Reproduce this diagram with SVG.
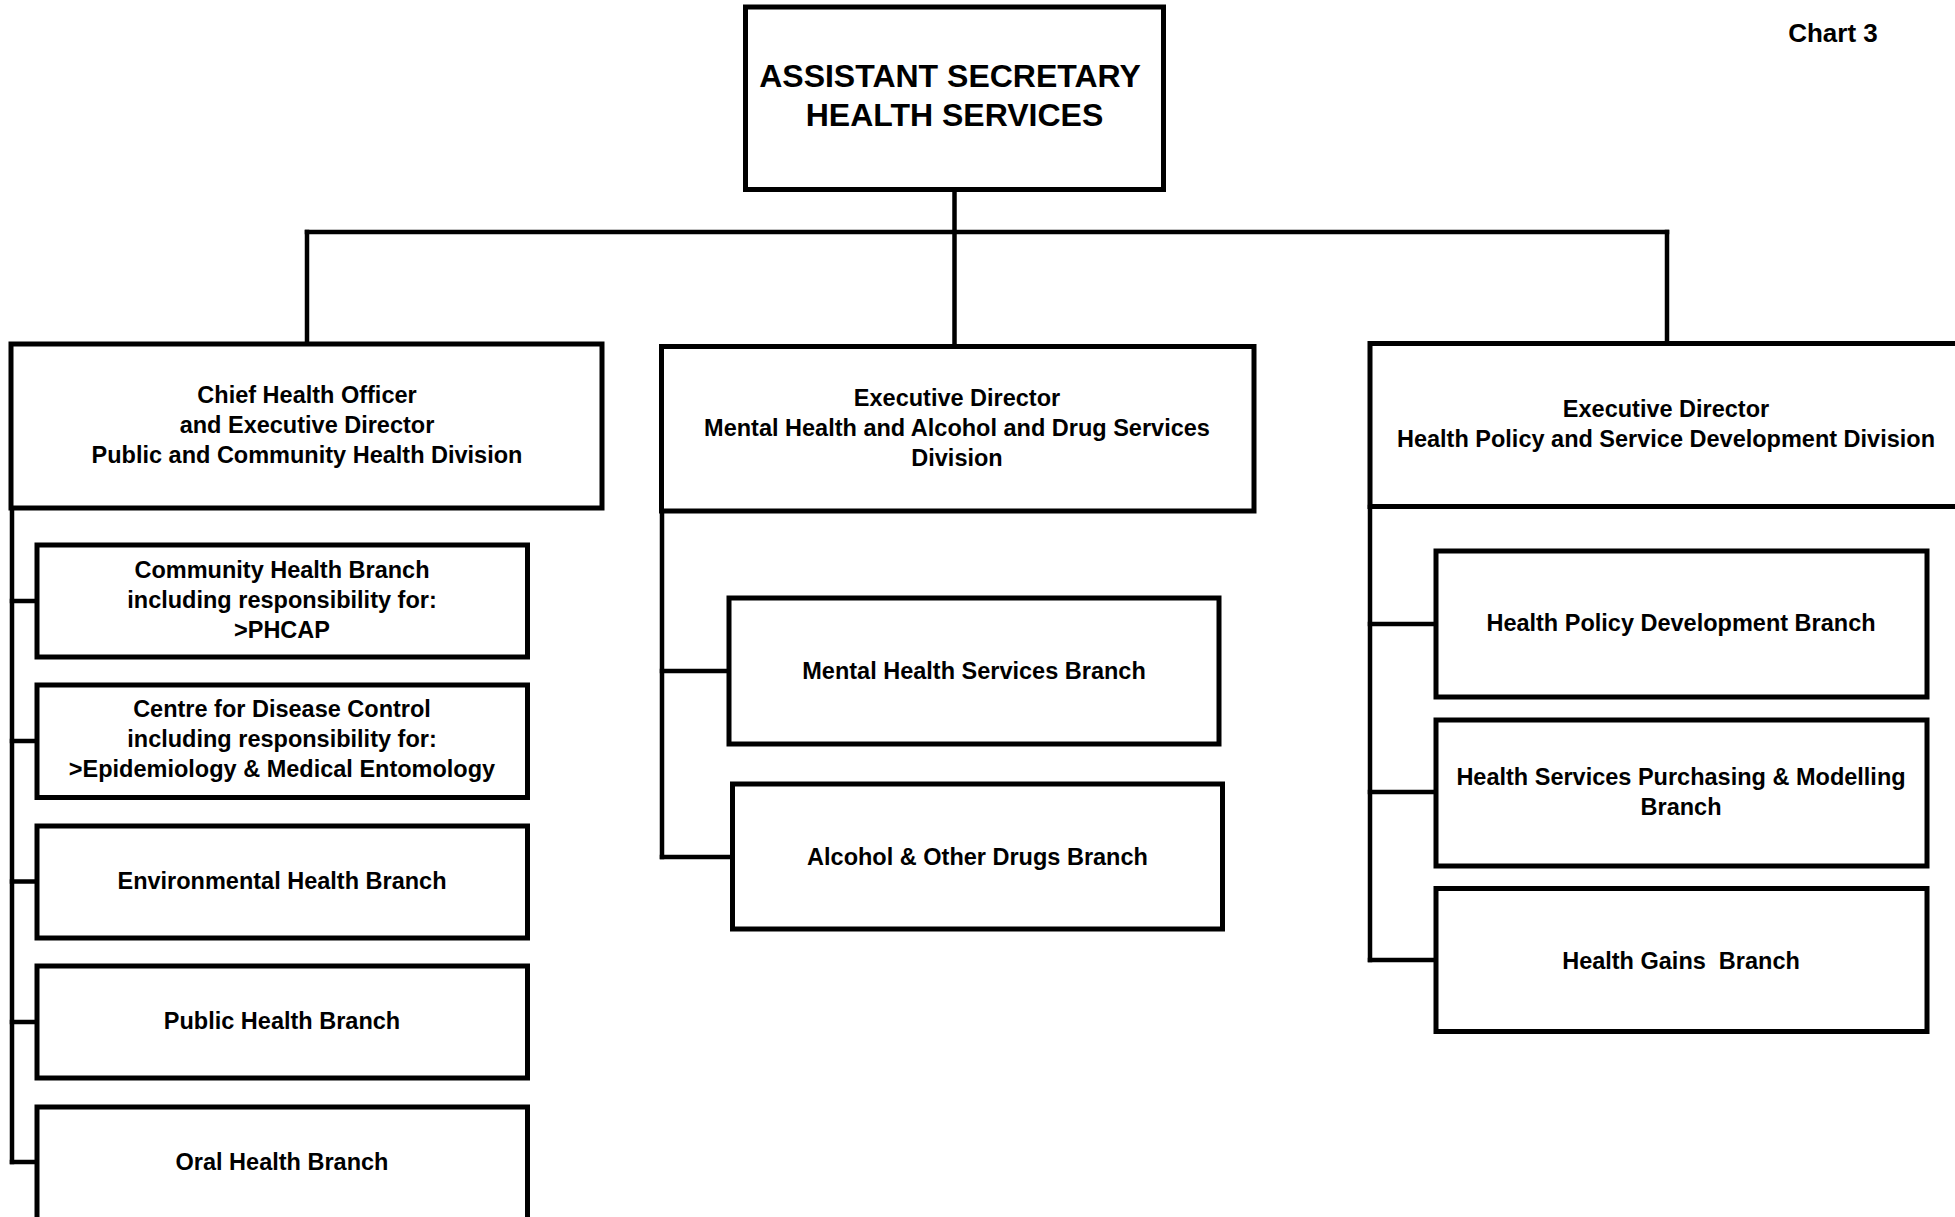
<svg xmlns="http://www.w3.org/2000/svg" width="1955" height="1217" viewBox="0 0 1955 1217">
<style>
  .box { fill: #ffffff; stroke: #000000; stroke-width: 5; }
  .ln { fill: none; stroke: #000000; stroke-width: 4.5; stroke-linecap: square; }
  text { font-family: "Liberation Sans", Arial, sans-serif; font-weight: bold; fill: #000000; text-anchor: middle; }
  .t { font-size: 23.5px; }
  .title { font-size: 32px; }
  .chart { font-size: 26px; }
</style>
<rect width="1955" height="1217" fill="#ffffff"/>
<g id="connectors">
  <path class="ln" d="M954.5,192 V346"/>
  <path class="ln" d="M307,232 H1667"/>
  <path class="ln" d="M307,232 V343"/>
  <path class="ln" d="M1667,232 V342"/>
  <path class="ln" d="M12,508 V1162"/>
  <path class="ln" d="M12,601 H37 M12,741 H37 M12,881.5 H37 M12,1022 H37 M12,1162 H37"/>
  <path class="ln" d="M662,511 V857"/>
  <path class="ln" d="M662,671 H729 M662,857 H732"/>
  <path class="ln" d="M1370,507 V960"/>
  <path class="ln" d="M1370,624 H1436 M1370,792 H1436 M1370,960 H1436"/>
</g>
<g id="chart-label"><text class="chart" x="1833" y="42">Chart 3</text></g>
<g id="assistant-secretary">
  <rect class="box" x="745.5" y="7" width="418" height="182.5"/>
  <text class="title" x="950" y="87">ASSISTANT SECRETARY</text>
  <text class="title" x="954.5" y="126">HEALTH SERVICES</text>
</g>
<g id="chief-health-officer">
  <rect class="box" x="11" y="344" width="591" height="164"/>
  <text class="t" x="307" y="403">Chief Health Officer</text>
  <text class="t" x="307" y="433">and Executive Director</text>
  <text class="t" x="307" y="463">Public and Community Health Division</text>
</g>
<g id="mental-health-division">
  <rect class="box" x="661.5" y="346.5" width="592.5" height="164.5"/>
  <text class="t" x="957" y="406">Executive Director</text>
  <text class="t" x="957" y="436">Mental Health and Alcohol and Drug Services</text>
  <text class="t" x="957" y="466">Division</text>
</g>
<g id="health-policy-division">
  <rect class="box" x="1370" y="343.5" width="600" height="163"/>
  <text class="t" x="1666" y="417">Executive Director</text>
  <text class="t" x="1666" y="447">Health Policy and Service Development Division</text>
</g>
<g id="community-health">
  <rect class="box" x="37" y="545" width="490.5" height="112"/>
  <text class="t" x="282" y="578">Community Health Branch</text>
  <text class="t" x="282" y="608">including responsibility for:</text>
  <text class="t" x="282" y="638">&gt;PHCAP</text>
</g>
<g id="disease-control">
  <rect class="box" x="37" y="685" width="490.5" height="112.5"/>
  <text class="t" x="282" y="717">Centre for Disease Control</text>
  <text class="t" x="282" y="747">including responsibility for:</text>
  <text class="t" x="282" y="777">&gt;Epidemiology &amp; Medical Entomology</text>
</g>
<g id="environmental-health">
  <rect class="box" x="37" y="826" width="490.5" height="112"/>
  <text class="t" x="282" y="889">Environmental Health Branch</text>
</g>
<g id="public-health">
  <rect class="box" x="37" y="966" width="490.5" height="112"/>
  <text class="t" x="282" y="1029">Public Health Branch</text>
</g>
<g id="oral-health">
  <rect class="box" x="37" y="1107" width="490.5" height="115"/>
  <text class="t" x="282" y="1170">Oral Health Branch</text>
</g>
<g id="mental-health-services">
  <rect class="box" x="729" y="598" width="490" height="146"/>
  <text class="t" x="974" y="679">Mental Health Services Branch</text>
</g>
<g id="alcohol-drugs">
  <rect class="box" x="732.5" y="784" width="490" height="145"/>
  <text class="t" x="977.5" y="865">Alcohol &amp; Other Drugs Branch</text>
</g>
<g id="health-policy-development">
  <rect class="box" x="1436" y="551" width="491" height="146"/>
  <text class="t" x="1681" y="631">Health Policy Development Branch</text>
</g>
<g id="purchasing-modelling">
  <rect class="box" x="1436" y="720" width="491" height="146"/>
  <text class="t" x="1681" y="785">Health Services Purchasing &amp; Modelling</text>
  <text class="t" x="1681" y="815">Branch</text>
</g>
<g id="health-gains">
  <rect class="box" x="1436" y="888.5" width="491" height="143"/>
  <text class="t" x="1681" y="969" xml:space="preserve">Health Gains  Branch</text>
</g>
</svg>
